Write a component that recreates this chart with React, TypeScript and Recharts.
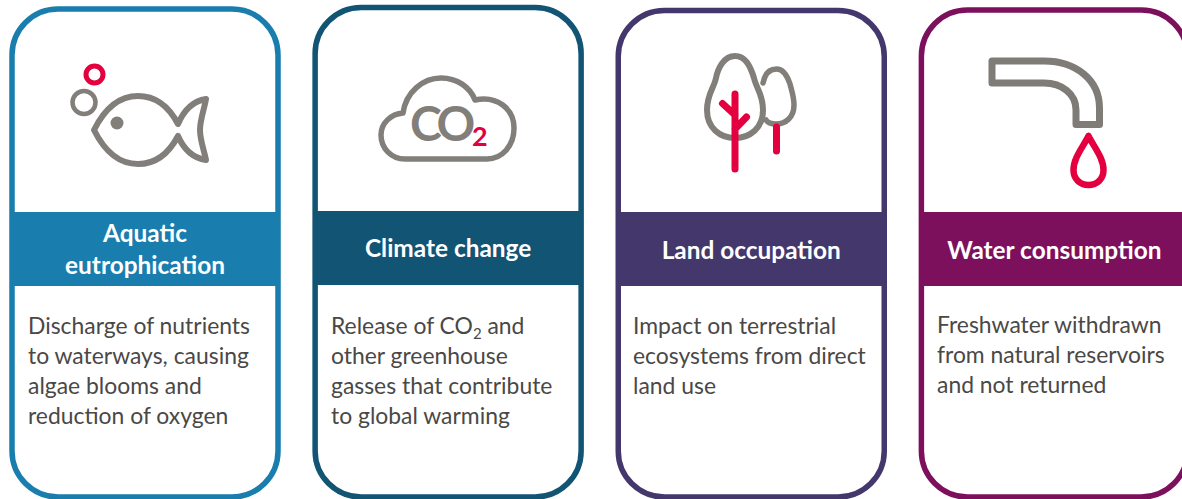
import React from 'react'
import { BarChart, Bar, XAxis, YAxis } from 'recharts'

const CATEGORIES = ['Aquatic eutrophication', 'Climate change', 'Land occupation', 'Water consumption']
const CARD_EXTENT = [1, 1, 1, 1]
const TITLE_LINES = [
  ['Aquatic', 'eutrophication'],
  ['Climate change'],
  ['Land occupation'],
  ['Water consumption'],
]
const BODY_LINES = [
  ['Discharge of nutrients', 'to waterways, causing', 'algae blooms and', 'reduction of oxygen'],
  ['Release of CO₂ and', 'other greenhouse', 'gasses that contribute', 'to global warming'],
  ['Impact on terrestrial', 'ecosystems from direct', 'land use'],
  ['Freshwater withdrawn', 'from natural reservoirs', 'and not returned'],
]

const chartData = CATEGORIES.map((name, i) => ({ name, extent: CARD_EXTENT[i] }))

const colors = ['#197DAE', '#115474', '#43376B', '#7D105D']
const GREY = '#827F7B'
const RED = '#E4003F'
const INK = '#4A4846'
const FONT = 'Lato, "Open Sans", sans-serif'

// small per-card nudges, the cards in the picture are not quite aligned
const topNudge = [0, -1.5, 1.5, 1]
const bandTop = [212, 211, 212, 212]
const titleBase = [[242, 274], [257], [259], [259]]
const bodyBase = [334, 334, 334, 333]
const bodyLeft = [28, 331, 633, 937]

const FishIcon = () => (
  <g fill="none" stroke={GREY} strokeWidth={6} strokeLinejoin="round">
    <circle cx={94.5} cy={74.5} r={8.5} stroke={RED} strokeWidth={5} />
    <circle cx={84} cy={102.5} r={11.5} strokeWidth={4.5} />
    <path d="M178 124 C168 105 154 96 138 96 C120 96 105 108 94 130 C105 152 120 164 138 164 C154 164 168 155 178 136 C184 150 193 158 206 160 C204 150 200 140 200 130 C200 120 204 110 206 99 C193 101 184 110 178 124 Z" />
    <circle cx={117} cy={123} r={6.5} fill={GREY} stroke="none" />
  </g>
)

const CloudIcon = () => (
  <g>
    <path
      d="M405 159 C391 159 381 148 381 135 C381 123 391 114 403 113 C406 92 423 78 441 78 C457 78 470 87 475 100 C497 95 514 109 514 128 C514 146 502 159 487 159 Z"
      fill="none"
      stroke={GREY}
      strokeWidth={5.5}
      strokeLinejoin="round"
    />
    <text x={410} y={141} fontFamily={FONT} fontSize={48} fontWeight={700} fill={GREY} letterSpacing={-4.5}>CO</text>
    <text x={472} y={146} fontFamily={FONT} fontSize={27} fontWeight={700} fill={RED}>2</text>
  </g>
)

const TreesIcon = () => (
  <g fill="none" strokeLinecap="round" strokeLinejoin="round">
    <path d="M735 56 C724 56 718 68 716 78 C714 88 707 94 707 110 C707 128 720 138 735 138 C750 138 763 128 763 110 C763 94 756 88 754 78 C750 65 745 56 735 56 Z" stroke={GREY} strokeWidth={6} />
    <path d="M763 83 C765 73 770 69 776.5 69 C783 69 787 75 790 84 C792 92 794 97 794 105 C794 117 786 124 776 124 C771 124 768 123 766 120" stroke={GREY} strokeWidth={5.5} />
    <path d="M735 94 V169 M722.5 103.5 L735 115 M746.5 117 L735 129 M776.5 127 V151" stroke={RED} strokeWidth={7} />
  </g>
)

const TapIcon = () => (
  <g fill="none" strokeLinejoin="round">
    <path d="M992 61 H1044 C1076 61 1099.5 80 1099.5 108 V124.5 H1076 V110 C1076 94 1062 83 1044 83 H992 Z" stroke="#7F7C78" strokeWidth={7} />
    <path d="M1088.5 136 C1083 147 1073.5 158 1073.5 170 C1073.5 179 1080 185 1088.5 185 C1097 185 1103.5 179 1103.5 170 C1103.5 158 1094 147 1088.5 136 Z" stroke={RED} strokeWidth={6.5} />
  </g>
)

const icons = [FishIcon, CloudIcon, TreesIcon, TapIcon]

// subscript for the CO2 in the body text
const renderBodyLine = (line: string) => {
  const parts = line.split('₂')
  if (parts.length === 1) return line
  return (
    <>
      {parts[0]}
      <tspan fontSize={15} dy={5}>2</tspan>
      <tspan dy={-5}>{parts[1]}</tspan>
    </>
  )
}

const CardShape = (props: any) => {
  const { x, y, width, height, index } = props
  const top = y + topNudge[index]
  const Icon = icons[index]
  const stroke = colors[index]
  const cx = x + width / 2
  return (
    <g>
      <rect x={x} y={top} width={width} height={y + height - top} rx={46} ry={46} fill="#fff" stroke={stroke} strokeWidth={5.5} />
      <rect x={x} y={bandTop[index]} width={width} height={74} fill={stroke} />
      <Icon />
      {TITLE_LINES[index].map((line, i) => (
        <text key={line} x={cx} y={titleBase[index][i]} textAnchor="middle" fontFamily={FONT} fontSize={24.4} fontWeight={700} fill="#fff">
          {line}
        </text>
      ))}
      {BODY_LINES[index].map((line, i) => (
        <text key={line} x={bodyLeft[index]} y={bodyBase[index] + i * 30} fontFamily={FONT} fontSize={22.9} fill={INK}>
          {renderBodyLine(line)}
        </text>
      ))}
    </g>
  )
}

export default function App() {
  return (
    <div style={{ position: 'absolute', left: 0, top: 0, width: 1182, height: 499, overflow: 'hidden', background: '#fff' }}>
      <BarChart
        width={1182}
        height={499}
        data={chartData}
        barSize={266}
        margin={{ top: 9, right: -23.5, bottom: 2, left: -7 }}
      >
        <XAxis dataKey="name" hide />
        <YAxis type="number" domain={[0, 1]} hide />
        <Bar dataKey="extent" shape={CardShape} isAnimationActive={false} />
      </BarChart>
    </div>
  )
}
